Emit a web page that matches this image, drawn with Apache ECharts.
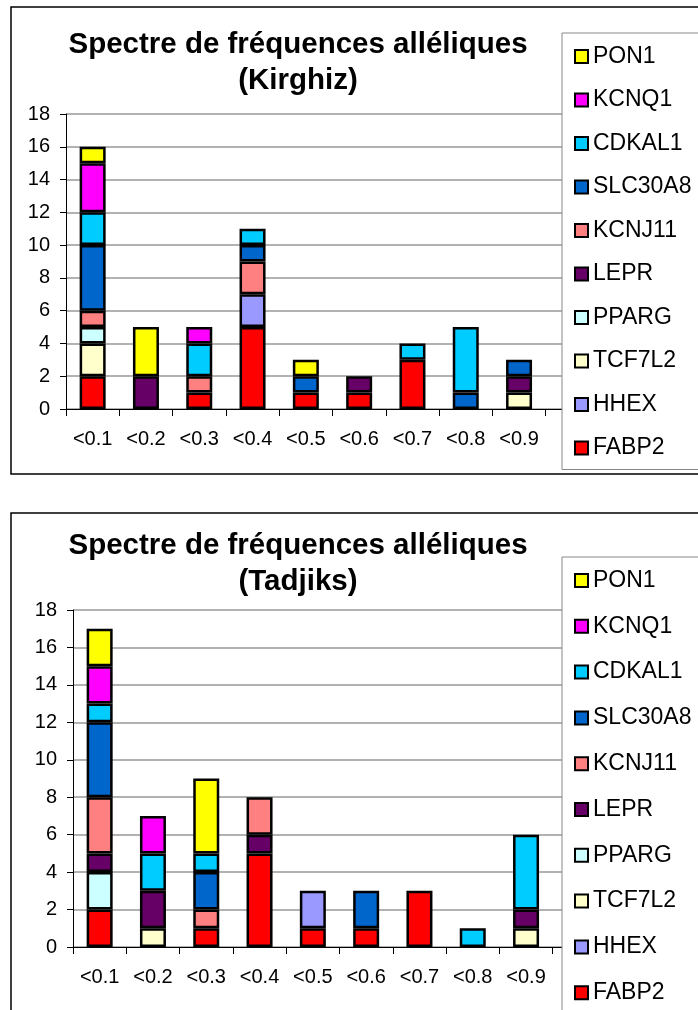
<!DOCTYPE html>
<html>
<head>
<meta charset="utf-8">
<script src="https://cdn.jsdelivr.net/npm/echarts@6/dist/echarts.min.js"></script>
<style>
  html, body { margin: 0; padding: 0; background: #fff; overflow: hidden; }
  #kirghiz { position: absolute; left: 0; top: 0; width: 698px; height: 490px; }
  #tadjiks { position: absolute; left: 0; top: 490px; width: 698px; height: 620px; }
</style>
</head>
<body>
<div id="kirghiz"></div>
<div id="tadjiks"></div>
<script>
const categories = ['<0.1', '<0.2', '<0.3', '<0.4', '<0.5', '<0.6', '<0.7', '<0.8', '<0.9'];
const yTicks = [0, 2, 4, 6, 8, 10, 12, 14, 16, 18];

// stacking order, bottom to top
const genes = ['FABP2', 'HHEX', 'TCF7L2', 'PPARG', 'LEPR', 'KCNJ11', 'SLC30A8', 'CDKAL1', 'KCNQ1', 'PON1'];
const geneColors = ['#FF0000', '#9999FF', '#FFFFCC', '#CCFFFF', '#660066', '#FF8080', '#0066CC', '#00CCFF', '#FF00FF', '#FFFF00'];

// Kirghiz
const kirFABP2   = [2, 0, 1, 5, 1, 1, 3, 0, 0];
const kirHHEX    = [0, 0, 0, 2, 0, 0, 0, 0, 0];
const kirTCF7L2  = [2, 0, 0, 0, 0, 0, 0, 0, 1];
const kirPPARG   = [1, 0, 0, 0, 0, 0, 0, 0, 0];
const kirLEPR    = [0, 2, 0, 0, 0, 1, 0, 0, 1];
const kirKCNJ11  = [1, 0, 1, 2, 0, 0, 0, 0, 0];
const kirSLC30A8 = [4, 0, 0, 1, 1, 0, 0, 1, 1];
const kirCDKAL1  = [2, 0, 2, 1, 0, 0, 1, 4, 0];
const kirKCNQ1   = [3, 0, 1, 0, 0, 0, 0, 0, 0];
const kirPON1    = [1, 3, 0, 0, 1, 0, 0, 0, 0];

// Tadjiks
const tadFABP2   = [2, 0, 1, 5, 1, 1, 3, 0, 0];
const tadHHEX    = [0, 0, 0, 0, 2, 0, 0, 0, 0];
const tadTCF7L2  = [0, 1, 0, 0, 0, 0, 0, 0, 1];
const tadPPARG   = [2, 0, 0, 0, 0, 0, 0, 0, 0];
const tadLEPR    = [1, 2, 0, 1, 0, 0, 0, 0, 1];
const tadKCNJ11  = [3, 0, 1, 2, 0, 0, 0, 0, 0];
const tadSLC30A8 = [4, 0, 2, 0, 0, 2, 0, 0, 0];
const tadCDKAL1  = [1, 2, 1, 0, 0, 0, 0, 1, 4];
const tadKCNQ1   = [2, 2, 0, 0, 0, 0, 0, 0, 0];
const tadPON1    = [2, 0, 4, 0, 0, 0, 0, 0, 0];

const kirghizData = [kirFABP2, kirHHEX, kirTCF7L2, kirPPARG, kirLEPR, kirKCNJ11, kirSLC30A8, kirCDKAL1, kirKCNQ1, kirPON1];
const tadjiksData = [tadFABP2, tadHHEX, tadTCF7L2, tadPPARG, tadLEPR, tadKCNJ11, tadSLC30A8, tadCDKAL1, tadKCNQ1, tadPON1];

const FONT = '"Liberation Sans", Arial, sans-serif';

function buildOption(population, data, lay) {
    return {
        animation: false,
        textStyle: { fontFamily: FONT },
        graphic: [
            {
                type: 'rect', z: 0, silent: true,
                shape: { x: 11, y: lay.frameTop, width: 720, height: lay.frameH },
                style: { fill: 'none', stroke: '#000', lineWidth: 1.5 }
            },
            {
                type: 'text', z: 10, x: 298, y: lay.titleY,
                style: {
                    text: 'Spectre de fréquences alléliques\n(' + population + ')',
                    fontFamily: FONT, fontSize: 29.5, fontWeight: 'bold',
                    lineHeight: 36, align: 'center', verticalAlign: 'middle', fill: '#000'
                }
            }
        ],
        legend: {
            orient: 'vertical',
            left: 562,
            top: lay.legendTop,
            padding: [lay.legendPadTop, 160, lay.legendPadBottom, 12],
            itemGap: lay.legendGap,
            itemWidth: 13,
            itemHeight: 13,
            icon: 'rect',
            backgroundColor: '#fff',
            borderColor: '#888',
            borderWidth: 1,
            data: genes.slice().reverse(),
            textStyle: { fontSize: 23, color: '#000', fontFamily: FONT },
            itemStyle: { borderColor: '#000', borderWidth: 2 }
        },
        grid: {
            left: lay.gridLeft,
            top: lay.gridTop,
            width: 533,
            height: lay.gridH,
            containLabel: false
        },
        xAxis: {
            type: 'category',
            data: [...categories, ''],
            axisLine: { show: true, lineStyle: { color: '#000', width: 1 } },
            axisTick: { show: true, length: 7, lineStyle: { color: '#000' } },
            axisLabel: { fontSize: 20, color: '#000', margin: 20, fontFamily: FONT },
            splitLine: { show: false }
        },
        yAxis: {
            type: 'value',
            min: yTicks[0],
            max: yTicks[yTicks.length - 1],
            interval: 2,
            axisLine: { show: true, lineStyle: { color: '#000', width: 1 } },
            axisTick: { show: true, length: 6, lineStyle: { color: '#000' } },
            axisLabel: { fontSize: 20, color: '#000', margin: 16, fontFamily: FONT },
            splitLine: { show: true, lineStyle: { color: '#999', width: 1.5 } }
        },
        series: genes.map((g, i) => ({
            name: g,
            type: 'bar',
            stack: 'total',
            barWidth: 26,
            itemStyle: { color: geneColors[i], borderColor: '#000', borderWidth: 2.5 },
            data: data[i].map(v => (v === 0 ? null : v))
        }))
    };
}

const kirChart = echarts.init(document.getElementById('kirghiz'));
kirChart.setOption(buildOption('Kirghiz', kirghizData, {
    frameTop: 7, frameH: 467, titleY: 63,
    legendTop: 33, legendPadTop: 12, legendPadBottom: 10, legendGap: 20.5,
    gridLeft: 66, gridTop: 114, gridH: 295
}));

const tadChart = echarts.init(document.getElementById('tadjiks'));
tadChart.setOption(buildOption('Tadjiks', tadjiksData, {
    frameTop: 23, frameH: 600, titleY: 74,
    legendTop: 67, legendPadTop: 12, legendPadBottom: 60, legendGap: 22.8,
    gridLeft: 73, gridTop: 120, gridH: 337
}));
</script>
</body>
</html>
